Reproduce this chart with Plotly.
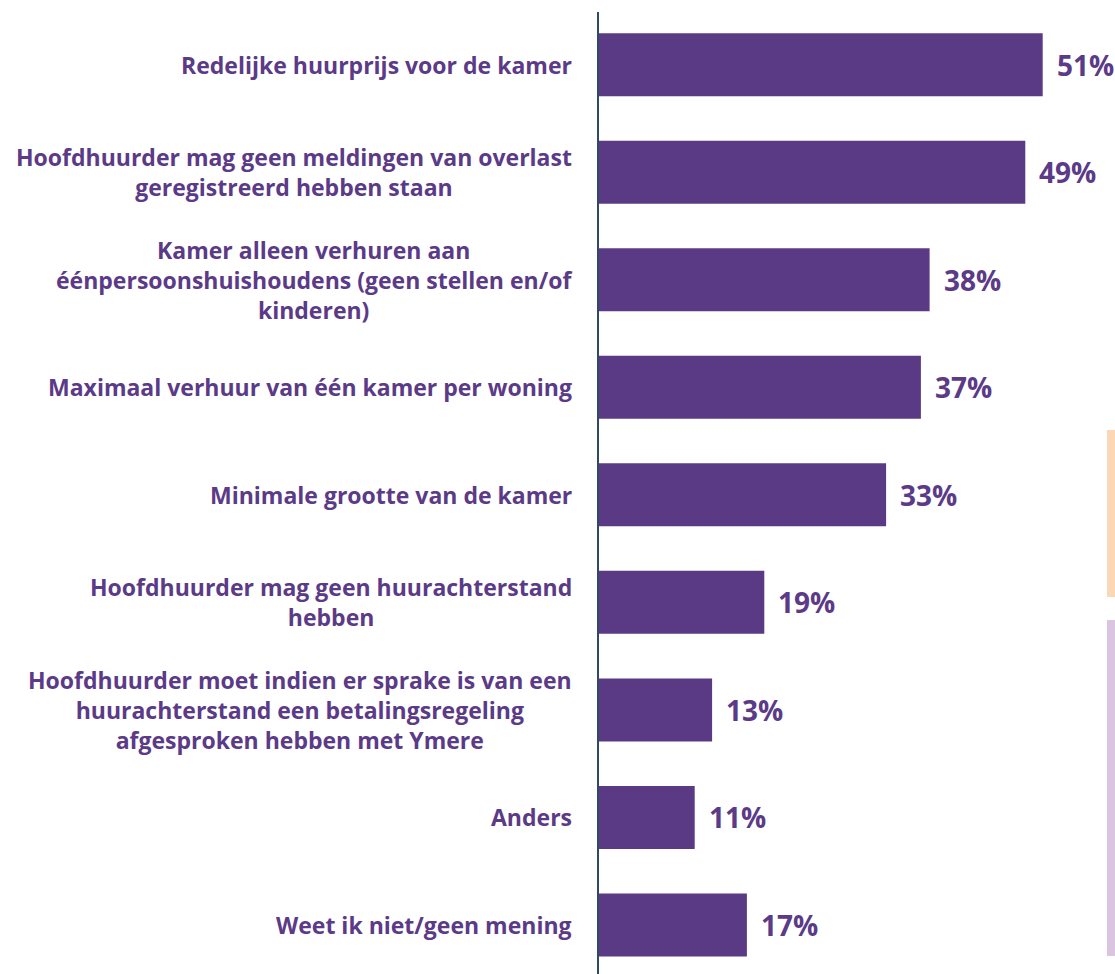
import plotly.graph_objects as go

categories = [
    "Redelijke huurprijs voor de kamer",
    "Hoofdhuurder mag geen meldingen van overlast<br>geregistreerd hebben staan",
    "Kamer alleen verhuren aan<br>éénpersoonshuishoudens (geen stellen en/of<br>kinderen)",
    "Maximaal verhuur van één kamer per woning",
    "Minimale grootte van de kamer",
    "Hoofdhuurder mag geen huurachterstand<br>hebben",
    "Hoofdhuurder moet indien er sprake is van een<br>huurachterstand een betalingsregeling<br>afgesproken hebben met Ymere",
    "Anders",
    "Weet ik niet/geen mening",
]
values = [51, 49, 38, 37, 33, 19, 13, 11, 17]
value_labels = [f"{v}%" for v in values]

PURPLE = "#5B3A85"
TEXT = "#5B3A87"
W, H = 1115, 974
L, R, T, B = 599, 0, 12, 0
pw = W - L - R
ph = H - T - B

ypos = list(range(len(categories)))

fig = go.Figure()
fig.add_trace(go.Bar(
    x=values, y=ypos, orientation="h",
    marker=dict(color=PURPLE, line=dict(width=0)),
    width=0.586, hoverinfo="skip",
))

for yi, cat in zip(ypos, categories):
    fig.add_annotation(
        x=(574 - L) / pw, xref="paper", y=yi, yref="y",
        text=f"<b>{cat}</b>", showarrow=False, xanchor="right", yanchor="middle",
        align="center", font=dict(family="Open Sans", size=23, color=TEXT),
    )

for yi, v, lab in zip(ypos, values, value_labels):
    fig.add_annotation(
        x=v, xref="x", y=yi, yref="y", text=f"<b>{lab}</b>", showarrow=False,
        xanchor="left", yanchor="middle", xshift=12,
        font=dict(family="Open Sans", size=28, color=TEXT),
    )

# decorative side strips
fig.add_shape(type="rect", xref="paper", yref="paper",
              x0=(1107 - L) / pw, x1=1.0, y0=(H - 597) / ph, y1=(H - 430) / ph,
              fillcolor="#FBD7B5", line=dict(width=0), layer="above")
fig.add_shape(type="rect", xref="paper", yref="paper",
              x0=(1107 - L) / pw, x1=1.0, y0=(H - 956) / ph, y1=(H - 620) / ph,
              fillcolor="#DAC5E0", line=dict(width=0), layer="above")

fig.update_layout(
    width=W, height=H,
    margin=dict(l=L, r=R, t=T, b=B),
    plot_bgcolor="white", paper_bgcolor="white",
    showlegend=False,
    xaxis=dict(range=[0, pw / 8.7], visible=False, fixedrange=True),
    yaxis=dict(range=[8.456, -0.49], showticklabels=False, showgrid=False,
               zeroline=False, showline=True, linecolor="#2E4A66", linewidth=2,
               ticks="", fixedrange=True),
)

fig.write_html(
    "out.html",
    config={"displayModeBar": False, "staticPlot": True},
    post_script="document.body.style.margin='0';document.body.style.overflow='hidden';",
)
